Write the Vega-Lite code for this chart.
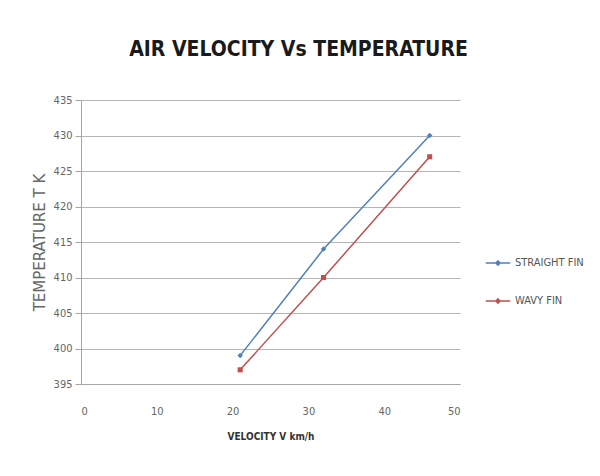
{
  "$schema": "https://vega.github.io/schema/vega-lite/v6.json",
  "autosize": "none",
  "width": 379,
  "height": 284,
  "padding": {"left": 81, "top": 100, "right": 140, "bottom": 92},
  "background": "white",
  "title": {
    "text": "AIR VELOCITY Vs TEMPERATURE",
    "font": "DejaVu Sans Condensed",
    "fontSize": 21,
    "fontWeight": "bold",
    "color": "#1a1a1a",
    "anchor": "middle",
    "frame": "group",
    "dx": 28,
    "offset": 34
  },
  "data": {
    "values": [
      {"series": "STRAIGHT FIN", "velocity": 21, "temperature": 399},
      {"series": "STRAIGHT FIN", "velocity": 32, "temperature": 414},
      {"series": "STRAIGHT FIN", "velocity": 46, "temperature": 430},
      {"series": "WAVY FIN", "velocity": 21, "temperature": 397},
      {"series": "WAVY FIN", "velocity": 32, "temperature": 410},
      {"series": "WAVY FIN", "velocity": 46, "temperature": 427}
    ]
  },
  "config": {
    "view": {"stroke": null},
    "axis": {
      "labelFont": "DejaVu Sans Condensed",
      "labelFontSize": 11,
      "labelColor": "#666666",
      "domainColor": "#a6a6a6",
      "tickColor": "#a6a6a6",
      "gridColor": "#b5b5b5"
    }
  },
  "encoding": {
    "x": {
      "field": "velocity",
      "type": "quantitative",
      "scale": {"domain": [0, 50], "nice": false},
      "axis": {
        "values": [0, 10, 20, 30, 40, 50],
        "grid": false,
        "ticks": false,
        "labelPadding": 21,
        "title": "VELOCITY V km/h",
        "titleFont": "DejaVu Sans Condensed",
        "titleFontSize": 10,
        "titleFontWeight": "bold",
        "titleColor": "#333333",
        "titlePadding": 15
      }
    },
    "y": {
      "field": "temperature",
      "type": "quantitative",
      "scale": {"domain": [395, 435], "nice": false, "zero": false},
      "axis": {
        "values": [395, 400, 405, 410, 415, 420, 425, 430, 435],
        "grid": true,
        "tickSize": 6,
        "labelPadding": 3,
        "title": "TEMPERATURE T K",
        "titleFont": "DejaVu Sans",
        "titleFontSize": 15,
        "titleFontWeight": "normal",
        "titleColor": "#666666",
        "titlePadding": 6
      }
    },
    "color": {
      "field": "series",
      "type": "nominal",
      "scale": {"domain": ["STRAIGHT FIN", "WAVY FIN"], "range": ["#4f81bd", "#c0504d"]},
      "legend": {
        "title": null,
        "orient": "none",
        "legendX": 404,
        "legendY": 150,
        "symbolType": "M-1,0H-0.17M0.17,0H1M0,-0.17L0.17,0L0,0.17L-0.17,0Z",
        "symbolSize": 600,
        "symbolStrokeWidth": 1.5,
        "rowPadding": 19,
        "labelFont": "DejaVu Sans Condensed",
        "labelFontSize": 11,
        "labelColor": "#555555",
        "labelOffset": 4
      }
    }
  },
  "layer": [
    {"mark": {"type": "line", "strokeWidth": 1.5}},
    {
      "transform": [{"filter": "datum.series == 'STRAIGHT FIN'"}],
      "mark": {"type": "point", "filled": true, "size": 30, "opacity": 1, "shape": "diamond"}
    },
    {
      "transform": [{"filter": "datum.series == 'WAVY FIN'"}],
      "mark": {"type": "point", "filled": true, "size": 26, "opacity": 1, "shape": "square"}
    }
  ]
}
